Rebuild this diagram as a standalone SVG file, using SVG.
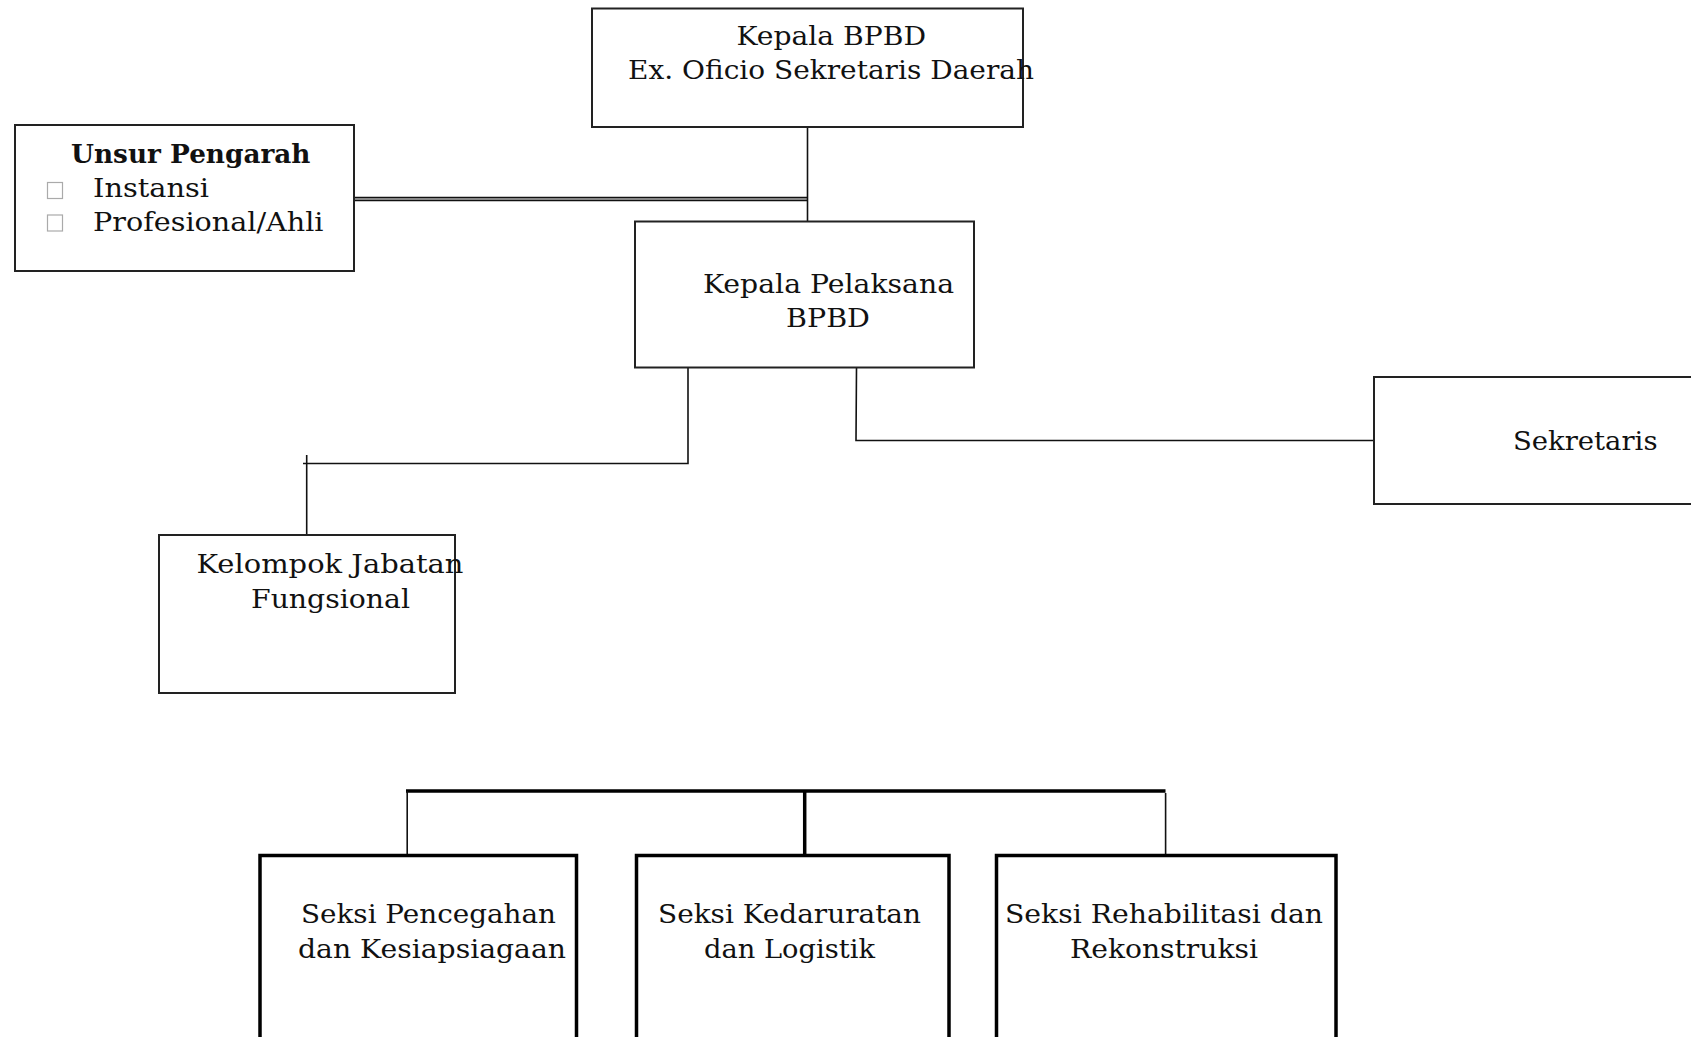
<svg xmlns="http://www.w3.org/2000/svg" width="1691" height="1037" viewBox="0 0 1691 1037">
<style>
  text { font-family: "DejaVu Serif", "Liberation Serif", serif; font-size: 26px; fill: #111; }
  .b { font-weight: bold; }
  .box { fill: #fff; stroke: #222; stroke-width: 2; }
  .boxk { fill: #fff; stroke: #000; stroke-width: 3.5; }
  .ln { fill: none; stroke: #111; stroke-width: 1.6; }
  .thick { fill: none; stroke: #000; stroke-width: 3.5; }
  .bul { fill: none; stroke: #aaa; stroke-width: 1.2; }
</style>
<rect width="1691" height="1037" fill="#fff"/>

<g id="connectors">
  <line class="ln" x1="807.5" y1="127" x2="807.5" y2="224" stroke-width="1.3"/>
  <line class="ln" x1="354" y1="197.6" x2="807.5" y2="197.6" stroke-width="1" stroke="#333"/>
  <line class="ln" x1="354" y1="200.4" x2="807.5" y2="200.4" stroke-width="1" stroke="#333"/>
  <polyline class="ln" points="688,368 688,463.5 303,463.5"/>
  <line class="ln" x1="306.7" y1="455" x2="306.7" y2="535"/>
  <polyline class="ln" points="856.5,368 856,440.5 1374,440.5" stroke-width="2"/>
  <line class="thick" x1="406" y1="791" x2="1165.5" y2="791"/>
  <line class="ln" x1="407.2" y1="791" x2="407.2" y2="854" stroke-width="2" stroke="#555"/>
  <line class="thick" x1="804.7" y1="791" x2="804.7" y2="855" stroke-width="3"/>
  <line class="ln" x1="1165.6" y1="793" x2="1165.6" y2="854" stroke-width="2.5" stroke="#333"/>
</g>

<g id="kepala-bpbd">
  <rect class="box" x="592" y="8.5" width="431" height="118.5"/>
  <text x="736.5" y="45" textLength="189.5" lengthAdjust="spacingAndGlyphs">Kepala BPBD</text>
  <text x="628" y="79" textLength="406" lengthAdjust="spacingAndGlyphs">Ex. Oficio Sekretaris Daerah</text>
</g>

<g id="unsur-pengarah">
  <rect class="box" x="15" y="125" width="339" height="146"/>
  <text class="b" x="71" y="163" textLength="239.5" lengthAdjust="spacingAndGlyphs">Unsur Pengarah</text>
  <rect class="bul" x="47.5" y="182.5" width="15" height="16"/>
  <text x="93" y="197" textLength="116" lengthAdjust="spacingAndGlyphs">Instansi</text>
  <rect class="bul" x="47.5" y="215" width="15" height="16"/>
  <text x="93" y="231" textLength="230.5" lengthAdjust="spacingAndGlyphs">Profesional/Ahli</text>
</g>

<g id="kepala-pelaksana">
  <rect class="box" x="635" y="221.5" width="339" height="146"/>
  <text x="703" y="293" textLength="251" lengthAdjust="spacingAndGlyphs">Kepala Pelaksana</text>
  <text x="786" y="327" textLength="84" lengthAdjust="spacingAndGlyphs">BPBD</text>
</g>

<g id="kelompok-jabatan">
  <rect class="box" x="159" y="535" width="296" height="158"/>
  <text x="196.5" y="573" textLength="267" lengthAdjust="spacingAndGlyphs">Kelompok Jabatan</text>
  <text x="251" y="608" textLength="159" lengthAdjust="spacingAndGlyphs">Fungsional</text>
</g>

<g id="sekretaris">
  <rect class="box" x="1374" y="377" width="400" height="127"/>
  <text x="1513" y="450" textLength="144.5" lengthAdjust="spacingAndGlyphs">Sekretaris</text>
</g>

<g id="seksi-pencegahan">
  <rect class="boxk" x="260" y="855.5" width="316.5" height="250"/>
  <text x="301" y="923" textLength="255" lengthAdjust="spacingAndGlyphs">Seksi Pencegahan</text>
  <text x="298" y="958" textLength="268" lengthAdjust="spacingAndGlyphs">dan Kesiapsiagaan</text>
</g>

<g id="seksi-kedaruratan">
  <rect class="boxk" x="636.5" y="855.5" width="312.5" height="250"/>
  <text x="658" y="923" textLength="263" lengthAdjust="spacingAndGlyphs">Seksi Kedaruratan</text>
  <text x="704" y="958" textLength="171" lengthAdjust="spacingAndGlyphs">dan Logistik</text>
</g>

<g id="seksi-rehabilitasi">
  <rect class="boxk" x="996.5" y="855.5" width="339.5" height="250"/>
  <text x="1005" y="923" textLength="318" lengthAdjust="spacingAndGlyphs">Seksi Rehabilitasi dan</text>
  <text x="1070" y="958" textLength="188" lengthAdjust="spacingAndGlyphs">Rekonstruksi</text>
</g>
</svg>
